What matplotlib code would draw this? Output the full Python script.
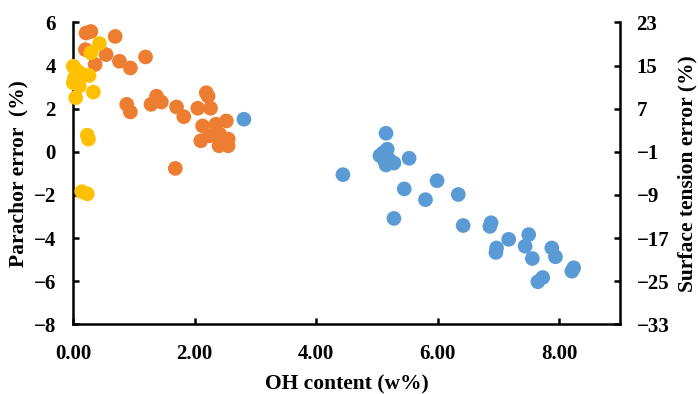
import matplotlib
matplotlib.use("Agg")
import matplotlib.pyplot as plt

# series (OH content w%, parachor error %)
blue_x = [2.81, 5.15, 5.17, 5.05, 5.13, 5.28, 5.15, 5.53, 4.44, 5.45, 5.99, 5.80, 6.34,
          5.28, 6.42, 6.88, 6.86, 7.17, 7.50, 7.44, 6.97, 6.96, 7.56, 7.88, 7.94,
          7.73, 7.65, 8.24, 8.21, 5.10, 5.20]
blue_y = [1.51, 0.86, 0.12, -0.18, -0.42, -0.52, -0.61, -0.30, -1.06, -1.72, -1.34, -2.22, -1.98,
          -3.09, -3.42, -3.29, -3.46, -4.06, -3.84, -4.38, -4.46, -4.67, -4.95, -4.46, -4.87,
          -5.83, -6.03, -5.38, -5.54, -0.05, -0.35]

orange_x = [0.21, 0.29, 0.69, 0.20, 0.54, 0.36, 0.76, 0.94, 1.19, 0.88, 0.94, 1.28, 1.37,
            1.45, 1.70, 1.82, 1.68, 2.05, 2.19, 2.22, 2.26, 2.13, 2.10, 2.24, 2.35,
            2.41, 2.40, 2.52, 2.55, 2.55, 2.45]
orange_y = [5.51, 5.58, 5.35, 4.74, 4.51, 4.05, 4.20, 3.89, 4.40, 2.20, 1.85, 2.20, 2.58,
            2.31, 2.08, 1.63, -0.77, 2.02, 2.74, 2.58, 2.02, 1.20, 0.51, 0.74, 1.28,
            0.82, 0.28, 1.43, 0.59, 0.28, 0.51]

yellow_x = [0.43, 0.29, 0.00, 0.07, 0.26, 0.02, 0.00, 0.10, 0.04, 0.33, 0.23, 0.25,
            0.14, 0.23, 0.15]
yellow_y = [5.02, 4.59, 3.97, 3.74, 3.54, 3.43, 3.20, 3.05, 2.51, 2.77, 0.77, 0.59,
            -1.85, -1.95, 3.60]

x_ticks = [0, 2, 4, 6, 8]
left_ticks = [-8, -6, -4, -2, 0, 2, 4, 6]
right_ticks = [-33, -25, -17, -9, -1, 7, 15, 23]

plt.rcParams['font.family'] = ['Liberation Serif', 'DejaVu Serif']
plt.rcParams['font.weight'] = 'bold'
plt.rcParams['font.size'] = 15

fig = plt.figure(figsize=(6.98, 3.94), dpi=100)
ax = fig.add_axes([0.105, 0.177, 0.783, 0.766])

ax.scatter(blue_x, blue_y, s=112, color='#5B9BD5', edgecolors='none', zorder=3, clip_on=False)
ax.scatter(orange_x, orange_y, s=112, color='#ED7D31', edgecolors='none', zorder=3, clip_on=False)
ax.scatter(yellow_x, yellow_y, s=112, color='#FFC000', edgecolors='none', zorder=4, clip_on=False)

ax.set_xlim(0, 9)
ax.set_ylim(-8, 6)
ax.set_xticks(x_ticks)
ax.set_xticklabels([f"{v:.2f}" for v in x_ticks])
ax.set_yticks(left_ticks)
ax.spines['top'].set_visible(False)
ax.spines['right'].set_visible(False)
for s in ['left', 'bottom']:
    ax.spines[s].set_linewidth(1.8)
ax.tick_params(axis='both', direction='in', length=4.5, width=1.8)
ax.tick_params(axis='x', pad=14.5)
ax.tick_params(axis='y', pad=12.5)

ax2 = ax.twinx()
ax2.set_ylim(-33, 23)
ax2.set_yticks(right_ticks)
for s in ['top', 'left', 'bottom']:
    ax2.spines[s].set_visible(False)
ax2.spines['right'].set_linewidth(1.8)
ax2.tick_params(axis='y', direction='in', length=4.5, width=1.8, pad=12)

ax.set_xlabel("OH content (w%)", fontsize=15.5, fontweight='bold')
ax.set_ylabel("Parachor error  (%)", fontsize=15.5, fontweight='bold')
ax2.set_ylabel("Surface tension error (%)", fontsize=15.5, fontweight='bold')
ax.xaxis.set_label_coords(0.5, -0.2)
ax.xaxis.label.set_va('center')
ax.yaxis.set_label_coords(-0.101, 0.5)
ax.yaxis.label.set_va('center')
ax2.yaxis.set_label_coords(1.124, 0.5)
ax2.yaxis.label.set_va('center')

fig.savefig("out.png", dpi=100)
